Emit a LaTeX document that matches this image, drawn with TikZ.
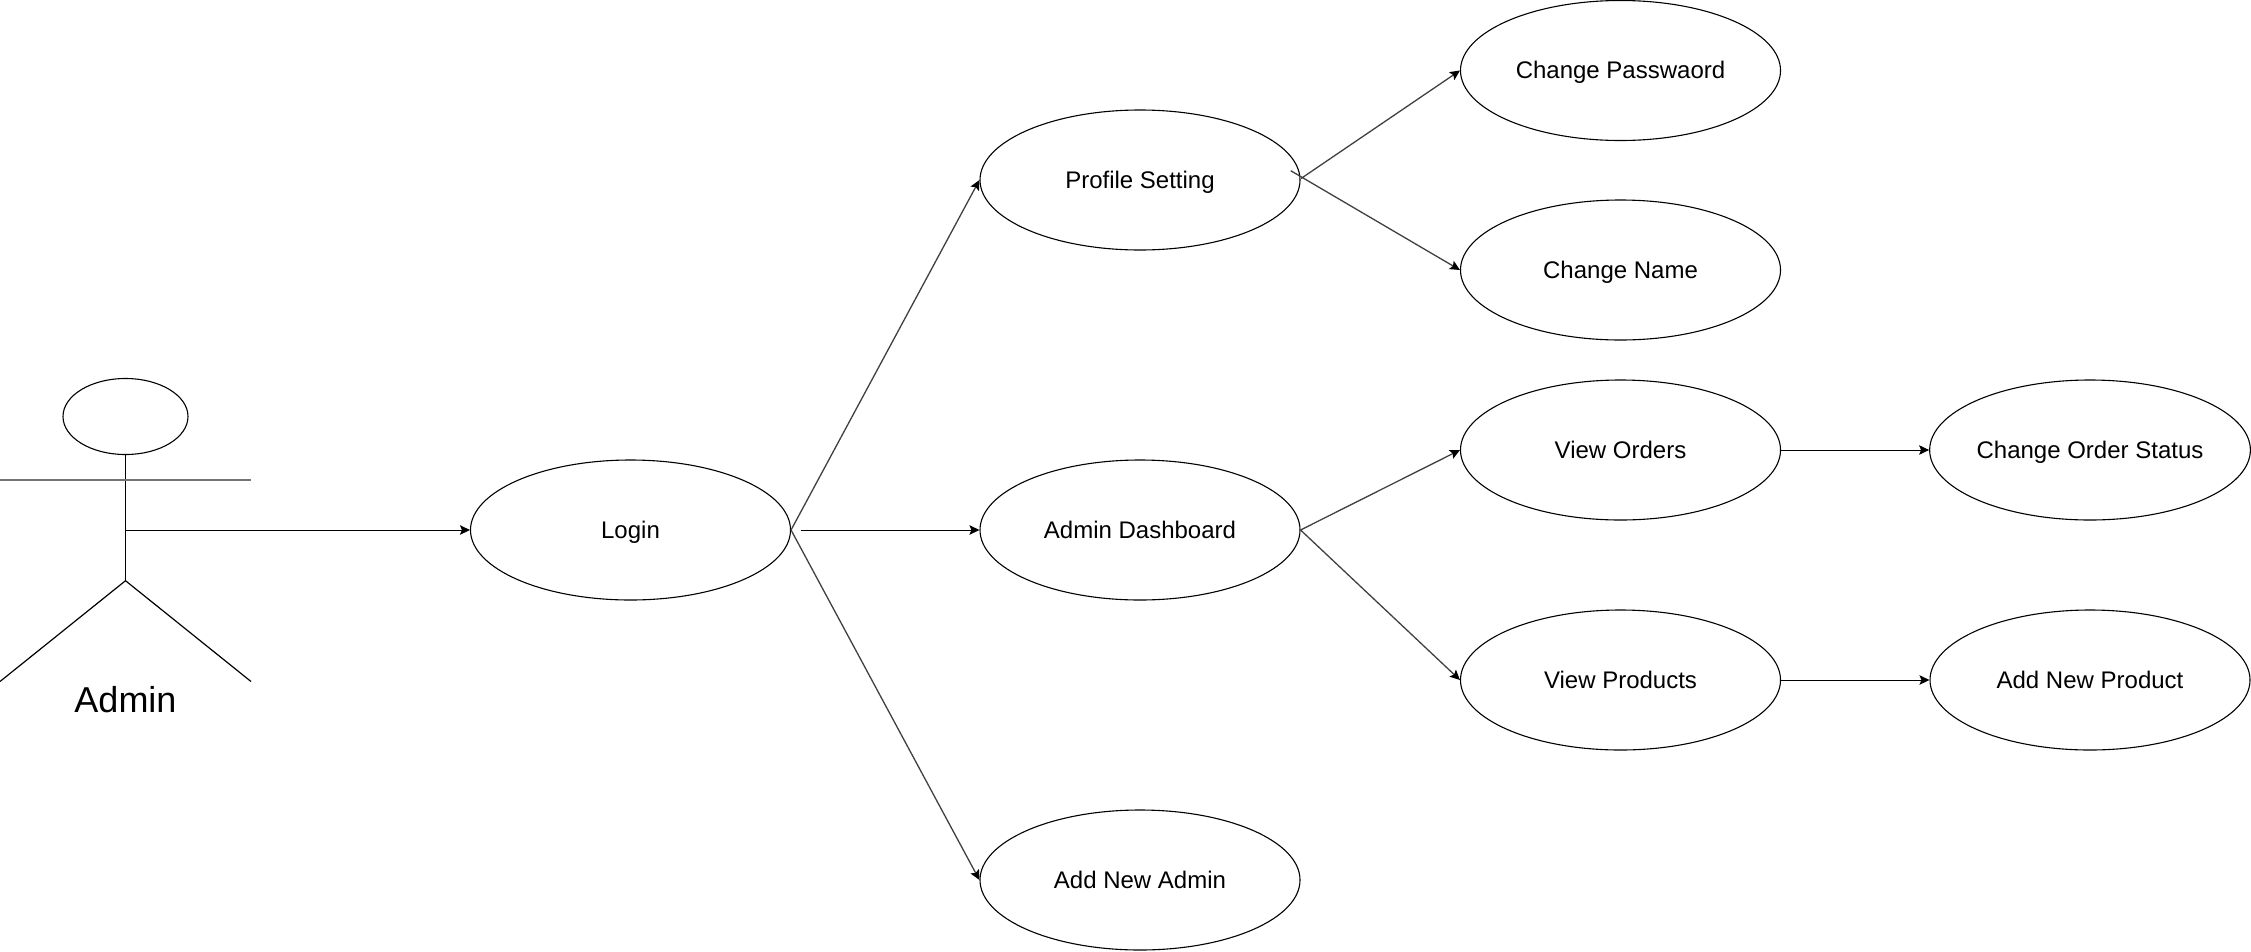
\documentclass[tikz,border=0pt]{standalone}
\usepackage{fontspec}
\setmainfont{Liberation Sans}
\usetikzlibrary{shapes.geometric,arrows.meta}
\tikzset{
  usecase/.style={draw=black,ellipse,minimum width=320pt,minimum height=140pt,inner sep=0pt,line width=1.1pt,font=\fontsize{24}{28}\selectfont,text=black,text height=21pt,text depth=5pt},
  flow/.style={draw=black!75,line width=1.3pt,-{Stealth[length=10pt,width=9.5pt,inset=2pt,color=black]}},
  straightflow/.style={flow,draw=black,line width=0.9pt},
  actorline/.style={draw=black,line width=1.2pt},
}
\begin{document}
\begin{tikzpicture}[x=1pt,y=-1pt]
\useasboundingbox (0,0) rectangle (2251,951);
\node[usecase] (login) at (630.5,530) {Login};
\node[usecase] (profile) at (1140,180) {Profile Setting};
\node[usecase] (dash) at (1140,530) {Admin Dashboard};
\node[usecase] (addadmin) at (1140,880) {Add New Admin};
\node[usecase] (pass) at (1620.5,70.5) {Change Passwaord};
\node[usecase] (name) at (1620.5,270) {Change Name};
\node[usecase] (orders) at (1620.5,450) {View Orders};
\node[usecase] (products) at (1620.5,680) {View Products};
\node[usecase] (status) at (2090,450) {Change Order Status};
\node[usecase] (addprod) at (2090,680) {Add New Product};
% actor
\node[draw=black,ellipse,minimum width=125pt,minimum height=76pt,inner sep=0pt,line width=1.1pt] (head) at (125.5,416.5) {};
\coordinate (hip) at (125.5,580.7);
\coordinate (armL) at (0,480);
\coordinate (armR) at (251,480);
\coordinate (legL) at (0,681.5);
\coordinate (legR) at (251,681.5);
\coordinate (belly) at (125.5,530);
\draw[actorline] (head.south) -- (hip);
\draw[actorline,draw=black!55,line width=1.8pt] (armL) -- (armR);
\draw[actorline] (legL) -- (hip) -- (legR);
\node[font=\fontsize{36}{40}\selectfont,anchor=base] (admin) at (125.5,712.5) {Admin};
% connectors
\coordinate (dashstart) at (800.5,530);
\coordinate (namestart) at (1290.7,170.7);
\coordinate (passstart) at (1301,178.5);
\draw[straightflow] (belly) -- (login.west);
\draw[flow] (login.east) -- (profile.west);
\draw[straightflow] (dashstart) -- (dash.west);
\draw[flow] (login.east) -- (addadmin.west);
\draw[flow] (passstart) -- (pass.west);
\draw[flow] (namestart) -- (name.west);
\draw[flow] (dash.east) -- (orders.west);
\draw[flow] (dash.east) -- (products.west);
\draw[straightflow] (orders.east) -- (status.west);
\draw[straightflow] (products.east) -- (addprod.west);
\end{tikzpicture}
\end{document}
